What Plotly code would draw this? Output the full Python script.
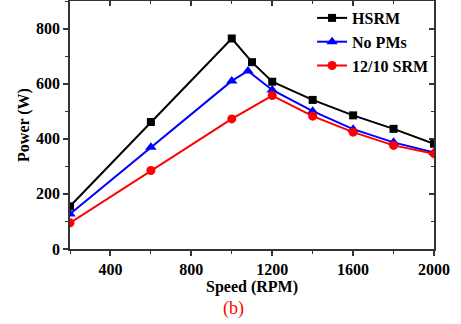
import plotly.graph_objects as go

# Speed (RPM) and output power (W) for each machine
speed_hsrm = [200, 600, 1000, 1100, 1200, 1400, 1600, 1800, 2000]
power_hsrm = [155, 461, 764, 678, 607, 541, 485, 436, 382]

speed_nopm = [200, 600, 1000, 1080, 1200, 1400, 1600, 1800, 2000]
power_nopm = [127, 369, 610, 646, 577, 500, 435, 387, 350]

speed_srm = [200, 600, 1000, 1200, 1400, 1600, 1800, 2000]
power_srm = [95, 285, 472, 557, 482, 424, 376, 346]

x_ticks = [400, 800, 1200, 1600, 2000]
y_ticks = [0, 200, 400, 600, 800]

FONT = "Liberation Serif"

fig = go.Figure()
fig.add_trace(go.Scatter(
    x=speed_hsrm, y=power_hsrm, name="<b>HSRM</b>", mode="lines+markers",
    line=dict(color="black", width=2),
    marker=dict(symbol="square", size=8, color="black"),
))
fig.add_trace(go.Scatter(
    x=speed_nopm, y=power_nopm, name="<b>No PMs</b>", mode="lines+markers",
    line=dict(color="#0000ff", width=2),
    marker=dict(symbol="triangle-up", size=10, color="#0000ff"),
))
fig.add_trace(go.Scatter(
    x=speed_srm, y=power_srm, name="<b>12/10 SRM</b>", mode="lines+markers",
    line=dict(color="#ff0000", width=2),
    marker=dict(symbol="circle", size=9, color="#ff0000"),
))
# invisible trace to bind the mirrored top/right axes
fig.add_trace(go.Scatter(
    x=[200], y=[0], xaxis="x2", yaxis="y2", mode="markers",
    marker=dict(opacity=0), showlegend=False, hoverinfo="skip",
))

axis_line = dict(showline=True, linecolor="#333333", linewidth=1.5,
                 showgrid=False, zeroline=False)

fig.update_layout(
    width=461, height=324,
    margin=dict(l=69.5, r=27, t=1, b=75),
    paper_bgcolor="white", plot_bgcolor="white",
    font=dict(family=FONT, color="black"),
    showlegend=True,
    legend=dict(x=0.665, y=1.0, xanchor="left", yanchor="top",
                bgcolor="rgba(0,0,0,0)", font=dict(family=FONT, size=16),
                itemwidth=30, tracegroupgap=0),
    xaxis=dict(
        range=[200, 2000], tickvals=x_ticks, ticktext=[f"<b>{v}</b>" for v in x_ticks],
        ticks="outside", ticklen=5, tickwidth=1.5, tickcolor="#333333",
        minor=dict(dtick=200, tick0=0, ticks="outside", ticklen=3, tickwidth=1.2, tickcolor="#333333"),
        tickfont=dict(size=16),
        title=dict(text="<b>Speed (RPM)</b>", font=dict(size=16), standoff=4),
        **axis_line,
    ),
    yaxis=dict(
        range=[0, 900], tickvals=y_ticks, ticktext=[f"<b>{v}</b>" for v in y_ticks],
        ticks="outside", ticklen=5, tickwidth=1.5, tickcolor="#333333",
        minor=dict(dtick=100, tick0=0, ticks="outside", ticklen=3, tickwidth=1.2, tickcolor="#333333"),
        tickfont=dict(size=16),
        title=dict(text="<b>Power (W)</b>", font=dict(size=16), standoff=2),
        **axis_line,
    ),
    xaxis2=dict(
        overlaying="x", side="top", anchor="y", range=[200, 2000],
        tickvals=x_ticks, showticklabels=False,
        ticks="inside", ticklen=5, tickwidth=1.5, tickcolor="#333333",
        minor=dict(dtick=200, tick0=0, ticks="inside", ticklen=3, tickwidth=1.2, tickcolor="#333333"),
        **axis_line,
    ),
    yaxis2=dict(
        overlaying="y", side="right", anchor="x", range=[0, 900],
        tickvals=y_ticks, showticklabels=False,
        ticks="inside", ticklen=5, tickwidth=1.5, tickcolor="#333333",
        minor=dict(dtick=100, tick0=0, ticks="inside", ticklen=3, tickwidth=1.2, tickcolor="#333333"),
        **axis_line,
    ),
    annotations=[dict(
        text="(b)", x=0.45, y=-0.24, xref="paper", yref="paper",
        xanchor="center", yanchor="middle", showarrow=False,
        font=dict(family=FONT, size=18, color="#ff0000"),
    )],
)

fig.write_html("out.html")
